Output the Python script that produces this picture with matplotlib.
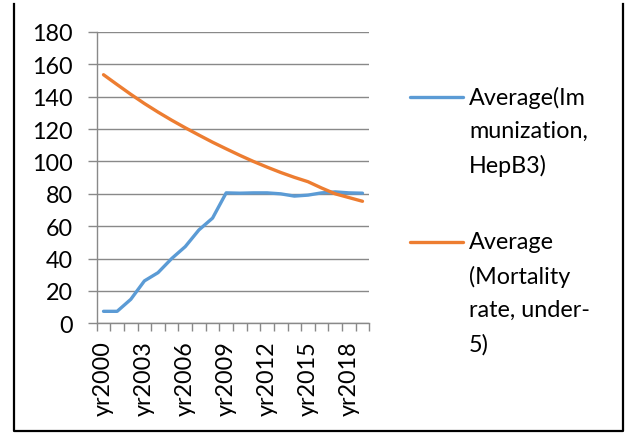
import matplotlib
matplotlib.use("Agg")
import matplotlib.pyplot as plt
from matplotlib.lines import Line2D

plt.rcParams['font.family'] = ['Lato', 'DejaVu Sans']

years = [f"yr{y}" for y in range(2000, 2020)]
hepb3 = [7.4, 7.4, 14.8, 26.2, 31.3, 40.0, 47.4, 57.7, 65.0, 80.6,
         80.4, 80.6, 80.6, 80.0, 78.6, 79.2, 80.6, 81.2, 80.6, 80.4]
mortality = [153.6, 147.5, 141.5, 135.8, 130.5, 125.5, 120.8, 116.3, 111.9, 107.8,
             103.8, 100.0, 96.5, 93.2, 90.2, 87.5, 83.6, 80.0, 77.7, 75.4]
label_hepb3 = "Average(Im\nmunization,\nHepB3)"
label_mort = "Average\n(Mortality\nrate, under-\n5)"

blue = "#5B9BD5"
orange = "#ED7D31"
grid_c = "#898989"
fs = 16.8

fig = plt.figure(figsize=(6.25, 4.35), dpi=100)
ax = fig.add_axes([96.7 / 625, (435 - 324.3) / 435, 272.6 / 625, 291.3 / 435])

x = list(range(len(years)))
ax.plot(x, hepb3, color=blue, lw=2.4, solid_capstyle='round', zorder=3)
ax.plot(x, mortality, color=orange, lw=2.4, solid_capstyle='round', zorder=3)

ax.set_xlim(-0.5, len(years) - 0.5)
ax.set_ylim(0, 180)
ax.set_yticks(range(0, 181, 20))
ax.yaxis.grid(True, color=grid_c, lw=1.0)
ax.set_axisbelow(True)
ax.tick_params(axis='y', direction='out', length=6.3, width=1.0, color=grid_c,
               labelsize=fs, pad=11)

ax.set_xticks(x[::3])
ax.set_xticklabels(years[::3], rotation=90, fontsize=fs)
ax.set_xticks([i - 0.5 for i in range(len(years) + 1)], minor=True)
ax.tick_params(axis='x', which='major', length=0, pad=12)
ax.tick_params(axis='x', which='minor', direction='out', length=5.5, width=1.0, color=grid_c)

for s in ['top', 'right']:
    ax.spines[s].set_visible(False)
for s in ['left', 'bottom']:
    ax.spines[s].set_color(grid_c)
    ax.spines[s].set_linewidth(1.0)

# legend entries: handle line with wrapped label beside it
def entry(y_px, color, text):
    yf = (435 - y_px) / 435
    fig.add_artist(Line2D([410 / 625, 463 / 625], [yf, yf], color=color, lw=2.4,
                          solid_capstyle='round'))
    fig.text(469 / 625, (435 - y_px + 11) / 435, text, fontsize=fs, va='top',
             ha='left', linespacing=1.72, transform=fig.transFigure)

entry(97.7, blue, label_hepb3)
entry(242.7, orange, label_mort)

# outer frame (left, bottom, right)
l, r = 14 / 625, 623 / 625
b, t = (435 - 432) / 435, (435 - 5) / 435
fig.add_artist(Line2D([l, l, r, r], [t, b, b, t], color='black', lw=1.6))

fig.savefig("out.png", dpi=100)
